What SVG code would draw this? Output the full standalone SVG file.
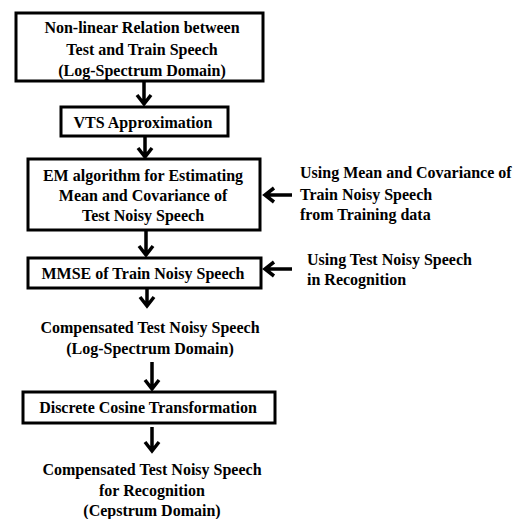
<svg xmlns="http://www.w3.org/2000/svg" width="530" height="519" viewBox="0 0 530 519">
<defs>
<style>
.box{fill:#fff;stroke:#000;stroke-width:3}
.a{fill:none;stroke:#000;stroke-width:3.5;stroke-linecap:butt;stroke-linejoin:miter}
</style>
</defs>
<rect width="530" height="519" fill="#fff"/>
<g id="connectors">
<path class="a" d="M144 82V104M137 95L144 104L151 95"/>
<path class="a" d="M145 137V157M138 148L145 157L152 148"/>
<path class="a" d="M146 231V255M139 246L146 255L153 246"/>
<path class="a" d="M147 289V306M140 297L147 306L154 297"/>
<path class="a" d="M152 362V389M145 380L152 389L159 380"/>
<path class="a" d="M152 427V451M145 442L152 451L159 442"/>
<path class="a" d="M292 195H265M274 188L265 195L274 202"/>
<path class="a" d="M292 269H265M274 262L265 269L274 276"/>
</g>
<g id="n1">
<rect class="box" x="16" y="13" width="247" height="68"/>
<text font-family="Liberation Serif" font-weight="bold" font-size="16" fill="#000" text-anchor="middle" x="142" y="33">Non-linear Relation between</text>
<text font-family="Liberation Serif" font-weight="bold" font-size="16" fill="#000" text-anchor="middle" x="142" y="55">Test and Train Speech</text>
<text font-family="Liberation Serif" font-weight="bold" font-size="16" fill="#000" text-anchor="middle" x="142" y="76">(Log-Spectrum Domain)</text>
</g>
<g id="n2">
<rect class="box" x="61" y="107" width="167" height="29"/>
<text font-family="Liberation Serif" font-weight="bold" font-size="16" fill="#000" text-anchor="middle" x="143" y="128">VTS Approximation</text>
</g>
<g id="n3">
<rect class="box" x="28" y="159" width="232" height="71"/>
<text font-family="Liberation Serif" font-weight="bold" font-size="16" fill="#000" text-anchor="middle" x="143" y="181">EM algorithm for Estimating</text>
<text font-family="Liberation Serif" font-weight="bold" font-size="16" fill="#000" text-anchor="middle" x="143" y="201">Mean and Covariance of</text>
<text font-family="Liberation Serif" font-weight="bold" font-size="16" fill="#000" text-anchor="middle" x="143" y="221">Test Noisy Speech</text>
</g>
<g id="n4">
<rect class="box" x="28" y="258" width="233" height="30"/>
<text font-family="Liberation Serif" font-weight="bold" font-size="16" fill="#000" text-anchor="middle" x="143" y="279">MMSE of Train Noisy Speech</text>
</g>
<g id="n5">
<text font-family="Liberation Serif" font-weight="bold" font-size="16" fill="#000" x="300" y="178">Using Mean and Covariance of</text>
<text font-family="Liberation Serif" font-weight="bold" font-size="16" fill="#000" x="300" y="200">Train Noisy Speech</text>
<text font-family="Liberation Serif" font-weight="bold" font-size="16" fill="#000" x="300" y="220">from Training data</text>
</g>
<g id="n6">
<text font-family="Liberation Serif" font-weight="bold" font-size="16" fill="#000" x="307" y="265">Using Test Noisy Speech</text>
<text font-family="Liberation Serif" font-weight="bold" font-size="16" fill="#000" x="307" y="285">in Recognition</text>
</g>
<g id="n7">
<text font-family="Liberation Serif" font-weight="bold" font-size="16" fill="#000" text-anchor="middle" x="150" y="333">Compensated Test Noisy Speech</text>
<text font-family="Liberation Serif" font-weight="bold" font-size="16" fill="#000" text-anchor="middle" x="150" y="354">(Log-Spectrum Domain)</text>
</g>
<g id="n8">
<rect class="box" x="23" y="392" width="252" height="31"/>
<text font-family="Liberation Serif" font-weight="bold" font-size="16" fill="#000" text-anchor="middle" x="148" y="413">Discrete Cosine Transformation</text>
</g>
<g id="n9">
<text font-family="Liberation Serif" font-weight="bold" font-size="16" fill="#000" text-anchor="middle" x="152" y="475">Compensated Test Noisy Speech</text>
<text font-family="Liberation Serif" font-weight="bold" font-size="16" fill="#000" text-anchor="middle" x="152" y="496">for Recognition</text>
<text font-family="Liberation Serif" font-weight="bold" font-size="16" fill="#000" text-anchor="middle" x="152" y="516">(Cepstrum Domain)</text>
</g>
</svg>
